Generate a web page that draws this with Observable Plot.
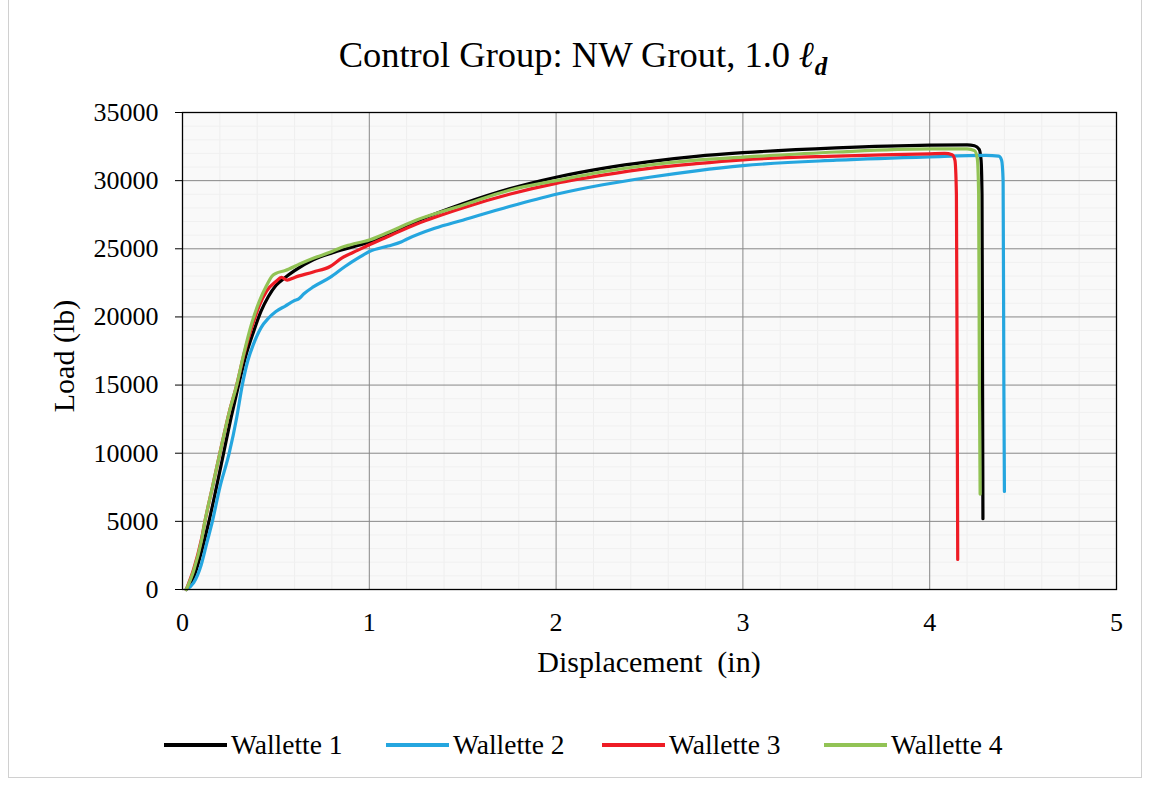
<!DOCTYPE html>
<html>
<head>
<meta charset="utf-8">
<script src="https://cdn.jsdelivr.net/npm/d3@7"></script>
<script src="https://cdn.jsdelivr.net/npm/@observablehq/plot@0.6"></script>
<style>
  body { margin: 0; background: #fff; font-family: "Liberation Serif", "Times New Roman", serif; color: #000; }
  #wrap { position: relative; width: 1151px; height: 785px; overflow: hidden; }
  #border { position: absolute; left: 8px; top: -2px; width: 1134px; height: 780px; border: 1px solid #d0d0d0; box-sizing: border-box; }
  #title { position: absolute; top: 37px; left: 0; width: 1166px; text-align: center; font-size: 36.5px; line-height: 1; white-space: nowrap; }
  #title .ld { font-weight: bold; font-style: italic; }
  #chart { position: absolute; top: 90px; left: 0; }
  #ylabel { position: absolute; left: 64px; top: 356px; transform: translate(-50%, -50%) rotate(-90deg); font-size: 30px; line-height: 1; white-space: nowrap; }
  #xlabel { position: absolute; left: 649px; top: 647px; transform: translateX(-50%); font-size: 30px; line-height: 1; white-space: pre; }
  #legend { position: absolute; left: 0; top: 730px; width: 1151px; height: 30px; font-size: 27.5px; line-height: 30px; }
  .item { position: absolute; top: 0; display: flex; align-items: center; gap: 4px; white-space: nowrap; }
  .sw { width: 63px; height: 4px; }
</style>
</head>
<body>
<div id="wrap">
  <div id="border"></div>
  <div id="title">Control Group: NW Grout, 1.0 <span class="ld">ℓ<sub style="font-size:25px">d</sub></span></div>
  <div id="chart"></div>
  <div id="ylabel">Load (lb)</div>
  <div id="xlabel">Displacement  (in)</div>
  <div id="legend"></div>
</div>
<script>
// ---- data ----
const seriesNames = ["Wallette 1", "Wallette 2", "Wallette 3", "Wallette 4"];
const seriesColors = ["#000000", "#25a6df", "#ee1c25", "#92c355"];

const disp1 = [0.02,0.06,0.10,0.14,0.18,0.22,0.26,0.30,0.34,0.38,0.42,0.46,0.50,0.55,0.60,0.70,0.80,0.90,1.00,1.10,1.25,1.50,1.75,2.00,2.25,2.50,2.75,3.00,3.50,4.00,4.20,4.24,4.265,4.275,4.28,4.283,4.285];
const load1 = [0,900,2700,4900,7400,10000,12600,15000,17200,18900,20400,21500,22300,22900,23400,24200,24700,25100,25500,26100,27000,28300,29400,30250,30900,31400,31780,32050,32400,32600,32620,32560,32300,31500,29000,15000,5200];

const disp2 = [0.02,0.06,0.10,0.13,0.16,0.20,0.25,0.29,0.32,0.35,0.38,0.42,0.46,0.50,0.55,0.60,0.62,0.65,0.70,0.79,0.87,0.95,1.00,1.10,1.17,1.20,1.35,1.50,1.75,2.00,2.25,2.50,2.75,3.00,3.50,4.00,4.30,4.37,4.385,4.393,4.397,4.40];
const load2 = [0,500,1800,3400,5000,7500,10000,12600,15000,16800,18000,19200,19900,20400,20800,21200,21300,21700,22200,22900,23700,24400,24800,25200,25500,25700,26500,27100,28100,29000,29700,30250,30720,31100,31500,31750,31850,31800,31500,30000,15000,7200];

const disp3 = [0.02,0.06,0.10,0.12,0.16,0.20,0.25,0.29,0.33,0.37,0.41,0.45,0.50,0.53,0.56,0.60,0.70,0.79,0.85,0.94,1.00,1.10,1.25,1.50,1.75,2.00,2.25,2.50,2.75,3.00,3.50,4.00,4.08,4.12,4.135,4.143,4.147,4.15];
const load3 = [0,1500,3600,5000,7500,10000,13000,15000,17300,19200,20800,21900,22600,22900,22700,22900,23300,23700,24300,24900,25300,25900,26800,28000,29000,29800,30400,30900,31250,31530,31800,31970,32000,31900,31500,29000,15000,2200];

const disp4 = [0.02,0.06,0.10,0.12,0.16,0.20,0.25,0.29,0.33,0.37,0.41,0.45,0.48,0.50,0.55,0.63,0.70,0.80,0.85,0.90,1.00,1.10,1.25,1.50,1.75,2.00,2.25,2.50,2.75,3.00,3.50,4.00,4.20,4.24,4.255,4.262,4.266,4.27];
const load4 = [0,1400,3500,5000,7500,10000,13000,15000,17400,19500,21100,22300,23000,23200,23400,23900,24300,24800,25100,25300,25650,26200,27100,28200,29300,30000,30650,31150,31500,31720,32100,32330,32330,32200,31600,29000,15000,7000];

const xTicks = [0, 1, 2, 3, 4, 5];
const yTicks = [0, 5000, 10000, 15000, 20000, 25000, 30000, 35000];
const xMinor = d3.range(0, 5.0001, 0.2).filter(v => Math.abs(v - Math.round(v)) > 1e-6);
const yMinor = d3.range(0, 35001, 1000).filter(v => v % 5000 !== 0);
const legendLeft = [164, 386, 602, 824];

// ---- build table ----
const allDisp = [disp1, disp2, disp3, disp4];
const allLoad = [load1, load2, load3, load4];
const rows = [];
allDisp.forEach((xs, i) => xs.forEach((x, j) => rows.push({series: seriesNames[i], x, y: allLoad[i][j]})));

const chart = Plot.plot({
  width: 1151,
  height: 560,
  marginLeft: 182,
  marginRight: 35,
  marginTop: 22,
  marginBottom: 61,
  style: { fontFamily: '"Liberation Serif", "Times New Roman", serif', fontSize: "26px", color: "#000", background: "transparent", overflow: "visible" },
  x: { domain: [0, 5] },
  y: { domain: [0, 35000] },
  color: { domain: seriesNames, range: seriesColors },
  marks: [
    Plot.frame({ fill: "#f9f9f9", stroke: null }),
    Plot.ruleX(xMinor, { stroke: "#eeeeee", strokeWidth: 1 }),
    Plot.ruleY(yMinor, { stroke: "#f0f0f0", strokeWidth: 1 }),
    Plot.ruleX(xTicks.slice(1, -1), { stroke: "#878787", strokeWidth: 1 }),
    Plot.ruleY(yTicks.slice(1, -1), { stroke: "#878787", strokeWidth: 1 }),
    Plot.line(rows, { x: "x", y: "y", z: "series", stroke: "series", strokeWidth: 3.2, curve: "monotone-x", strokeLinejoin: "round", strokeLinecap: "round" }),
    Plot.frame({ stroke: "#000", strokeWidth: 1.3 }),
    Plot.axisX({ ticks: xTicks, tickFormat: "d", tickSize: 0, tickPadding: 23, label: null }),
    Plot.axisY({ ticks: yTicks, tickFormat: "d", tickSize: 7, tickPadding: 17, label: null, stroke: "#000" })
  ]
});
document.getElementById("chart").appendChild(chart);

// ---- legend ----
const legend = document.getElementById("legend");
seriesNames.forEach((name, i) => {
  const item = document.createElement("div");
  item.className = "item";
  item.style.left = legendLeft[i] + "px";
  const sw = document.createElement("div");
  sw.className = "sw";
  sw.style.background = seriesColors[i];
  const t = document.createElement("span");
  t.textContent = name;
  item.appendChild(sw);
  item.appendChild(t);
  legend.appendChild(item);
});
</script>
</body>
</html>
